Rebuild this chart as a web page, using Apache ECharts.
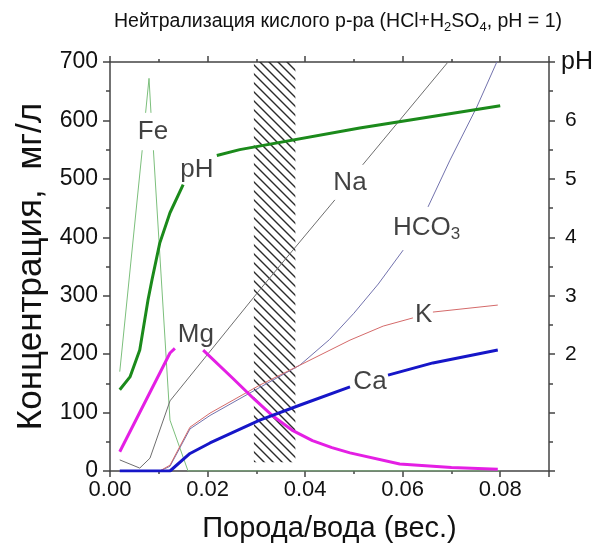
<!DOCTYPE html>
<html>
<head>
<meta charset="utf-8">
<script src="https://cdn.jsdelivr.net/npm/echarts@6/dist/echarts.min.js"></script>
<style>
  html, body { margin: 0; padding: 0; background: #fff; }
  #chart { width: 601px; height: 546px; }
</style>
</head>
<body>
<div id="chart"></div>
<script>
// значения, null = разрыв линии под подписью
var feX = [0.002, 0.0066, 0.0070, 0.0073, 0.008, 0.0084, 0.0087, 0.0089, 0.0123, 0.016, 0.08];
var feY = [170, 549, null, 613, 672, 613, null, 549, 87, 0, 0];

var phX = [0.002, 0.0041, 0.0061, 0.0078, 0.0086, 0.0102, 0.0123, 0.015, 0.018, 0.0219, 0.0266, 0.0512, 0.08];
var phY = [1.39, 1.61, 2.07, 2.93, 3.27, 3.9, 4.42, 4.9, null, 5.4, 5.5, 5.87, 6.25];

var mgX = [0.002, 0.0123, 0.0133, 0.016, 0.0191, 0.025, 0.0297, 0.0334, 0.0375, 0.0415, 0.0455, 0.0492, 0.0594, 0.07, 0.0795];
var mgY = [33, 202, 210, null, 207, 160, 122, 94, 69, 52, 40, 31, 12, 6, 3];

var naX = [0.002, 0.0061, 0.0082, 0.0123, 0.0307, 0.0461, 0.049, 0.0518, 0.0693];
var naY = [19, 5, 22, 120, 310, 464, null, 524, 700];

var hco3X = [0.002, 0.0102, 0.0123, 0.0164, 0.0205, 0.0307, 0.0389, 0.045, 0.05, 0.055, 0.0601, 0.063, 0.0652, 0.0697, 0.0752, 0.0793];
var hco3Y = [0, 0, 8, 72, 95, 143, 181, 225, 270, 320, 378, null, 452, 532, 623, 700];

var kX = [0.002, 0.0102, 0.0123, 0.0164, 0.0205, 0.0307, 0.0389, 0.0492, 0.056, 0.0621, 0.064, 0.0662, 0.0795];
var kY = [0, 0, 10, 75, 99, 147, 181, 224, 248, 262, null, 272, 284];

var caX = [0.002, 0.0123, 0.0164, 0.0205, 0.0307, 0.039, 0.0492, 0.053, 0.057, 0.0662, 0.0795];
var caY = [0, 0, 30, 48, 87, 113, 144, null, 164, 185, 207];

// заштрихованная зона (порода/вода, мг/л)
var hatchX = [0.0295, 0.038];
var hatchY = [15, 700];

// подписи кривых: имя и точка привязки в координатах графика
var tagNames = ['Fe', 'pH', 'Mg', 'Na', 'HCO3', 'K', 'Ca'];
var tagX = [0.0088, 0.0178, 0.0176, 0.0492, 0.0649, 0.0643, 0.0533];
var tagY = [580, 515, 233, 493, 416, 267, 152];

var font = 'Liberation Sans, Arial, sans-serif';
var axisColor = '#444';

function pairs(xs, ys) {
  return xs.map(function (x, i) {
    return [x, ys[i] === null ? '-' : ys[i]];
  });
}

// штриховка "\\\\"
var hatch = document.createElement('canvas');
hatch.width = 9;
hatch.height = 9;
var ctx = hatch.getContext('2d');
ctx.strokeStyle = '#2a2a2a';
ctx.lineWidth = 1.4;
ctx.beginPath();
ctx.moveTo(-1, -1); ctx.lineTo(10, 10);
ctx.moveTo(-1, 8); ctx.lineTo(1, 10);
ctx.moveTo(8, -1); ctx.lineTo(10, 1);
ctx.stroke();

function line(name, xs, ys, color, width, axis) {
  return {
    name: name,
    type: 'line',
    yAxisIndex: axis || 0,
    data: pairs(xs, ys),
    showSymbol: false,
    symbol: 'none',
    connectNulls: false,
    lineStyle: { color: color, width: width },
    itemStyle: { color: color },
    animation: false,
    z: 3
  };
}

var tickLine = { color: axisColor, width: 1.5 };

var series = [
  {
    type: 'line',
    data: [],
    markArea: {
      silent: true,
      itemStyle: { color: { image: hatch, repeat: 'repeat' } },
      data: [[{ coord: [hatchX[0], hatchY[0]] }, { coord: [hatchX[1], hatchY[1]] }]]
    },
    z: 1
  },
  line('Fe', feX, feY, '#7cbf7c', 1),
  line('Na', naX, naY, '#6e6e6e', 1),
  line('HCO3', hco3X, hco3Y, '#7272ad', 1),
  line('K', kX, kY, '#d46a6a', 1),
  line('pH', phX, phY, '#1b8a1b', 3, 1),
  line('Mg', mgX, mgY, '#e41fe4', 3),
  line('Ca', caX, caY, '#1616c8', 3),
  {
    type: 'scatter',
    symbolSize: 0,
    silent: true,
    z: 10,
    data: tagNames.map(function (n, i) { return { name: n, value: [tagX[i], tagY[i]] }; }),
    label: {
      show: true,
      position: 'inside',
      color: '#111',
      fontFamily: font,
      fontSize: 26,
      formatter: function (p) {
        return p.name === 'HCO3' ? '{a|HCO}{b|3}' : p.name;
      },
      rich: {
        a: { fontSize: 26, lineHeight: 30, fontFamily: font, color: '#111' },
        b: { fontSize: 17, lineHeight: 4, verticalAlign: 'bottom', fontFamily: font, color: '#111' }
      }
    }
  }
];

var option = {
  backgroundColor: '#ffffff',
  animation: false,
  title: {
    text: 'Нейтрализация кислого р-ра (HCl+H{s|2}SO{s|4}, pH = 1)',
    left: 333,
    top: 5,
    textAlign: 'center',
    textStyle: {
      fontFamily: font,
      fontSize: 19.5,
      fontWeight: 'normal',
      color: '#111',
      lineHeight: 24,
      rich: {
        s: { fontSize: 13, lineHeight: 8, verticalAlign: 'bottom', fontFamily: font, color: '#111' }
      }
    }
  },
  grid: { left: 110, right: 52, top: 62, bottom: 75, outerBoundsMode: 'none' },
  xAxis: [
    {
      type: 'value',
      position: 'bottom',
      min: 0,
      max: 0.09,
      interval: 0.02,
      name: 'Порода/вода (вес.)',
      nameLocation: 'middle',
      nameGap: 43,
      nameTextStyle: { fontFamily: font, fontSize: 29, color: '#111' },
      axisLine: { onZero: false, lineStyle: tickLine },
      axisTick: { length: 6, lineStyle: tickLine },
      minorTick: { show: true, splitNumber: 2, length: 3, lineStyle: tickLine },
      splitLine: { show: false },
      axisLabel: {
        margin: 8,
        fontFamily: font,
        fontSize: 22,
        color: '#111',
        formatter: function (v) { return v > 0.085 ? '' : v.toFixed(2); }
      }
    },
    {
      type: 'value',
      position: 'top',
      min: 0,
      max: 0.09,
      interval: 0.02,
      axisLine: { onZero: false, lineStyle: tickLine },
      axisTick: { length: 6, lineStyle: tickLine },
      minorTick: { show: true, splitNumber: 2, length: 3, lineStyle: tickLine },
      splitLine: { show: false },
      axisLabel: { show: false }
    }
  ],
  yAxis: [
    {
      type: 'value',
      position: 'left',
      min: 0,
      max: 700,
      interval: 100,
      name: 'Концентрация,  мг/л',
      nameLocation: 'middle',
      nameGap: 60,
      nameTextStyle: { fontFamily: font, fontSize: 35, color: '#111' },
      axisLine: { show: true, onZero: false, lineStyle: tickLine },
      axisTick: { show: true, length: 7, lineStyle: tickLine },
      minorTick: { show: true, splitNumber: 2, length: 4, lineStyle: tickLine },
      splitLine: { show: false },
      axisLabel: { margin: 12, fontFamily: font, fontSize: 23, color: '#111' }
    },
    {
      type: 'value',
      position: 'right',
      min: 0,
      max: 7,
      interval: 1,
      axisLine: { show: true, onZero: false, lineStyle: tickLine },
      axisTick: { show: true, length: 6, lineStyle: tickLine },
      minorTick: { show: true, splitNumber: 2, length: 4, lineStyle: tickLine },
      splitLine: { show: false },
      axisLabel: {
        margin: 16,
        fontFamily: font,
        fontSize: 21,
        color: '#111',
        formatter: function (v) {
          if (v === 7) return '{p|pH}';
          return v >= 2 ? String(v) : '';
        },
        rich: { p: { fontSize: 25, fontFamily: font, color: '#111', padding: [0, 0, 0, -4] } }
      }
    }
  ],
  series: series
};

var myChart = echarts.init(document.getElementById('chart'));
myChart.setOption(option);
</script>
</body>
</html>
